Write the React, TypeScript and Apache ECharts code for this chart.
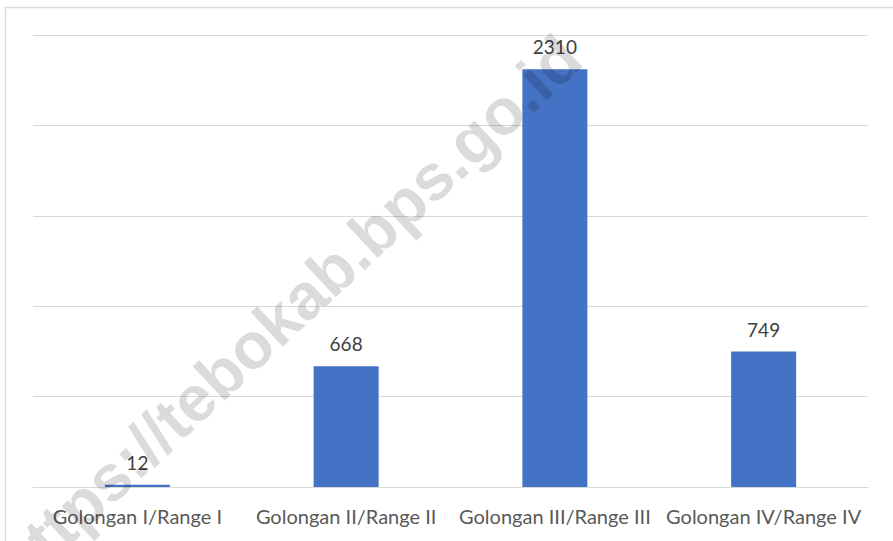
import React, { useEffect, useRef } from "react";
import * as echarts from "echarts";

const categories = [
  "Golongan I/Range I",
  "Golongan II/Range II",
  "Golongan III/Range III",
  "Golongan IV/Range IV",
];
const values = [12, 668, 2310, 749];
const yMin = 0;
const yMax = 2500;
const yInterval = 500;
const watermarkText = "https://tebokab.bps.go.id";

export default function App() {
  const ref = useRef<HTMLDivElement>(null);
  useEffect(() => {
    if (!ref.current) return;
    const chart = echarts.init(ref.current, undefined, { renderer: "svg" });
    chart.setOption({
      animation: false,
      backgroundColor: "#ffffff",
      grid: { left: 33, right: 25, top: 35, bottom: 54, containLabel: false },
      xAxis: {
        type: "category",
        data: categories,
        axisTick: { show: false },
        axisLine: { lineStyle: { color: "#d9d9d9", width: 1 } },
        axisLabel: {
          color: "#595959",
          fontFamily: "Lato",
          fontSize: 20,
          margin: 19,
          interval: 0,
        },
      },
      yAxis: {
        type: "value",
        min: yMin,
        max: yMax,
        interval: yInterval,
        axisLabel: { show: false },
        axisLine: { show: false },
        axisTick: { show: false },
        splitLine: { lineStyle: { color: "#d9d9d9", width: 1 } },
      },
      series: [
        {
          type: "bar",
          data: values,
          barWidth: 65,
          itemStyle: { color: "#4472C4" },
          label: {
            show: true,
            position: "top",
            distance: 13,
            color: "#404040",
            fontFamily: "Lato",
            fontSize: 19,
          },
        },
      ],
      graphic: [
        {
          type: "rect",
          shape: { x: 5.5, y: 7.5, width: 1000, height: 1000 },
          style: { fill: "none", stroke: "#d9d9d9", lineWidth: 1.5 },
          silent: true,
          z: 0,
        },
        {
          type: "text",
          x: 288,
          y: 311,
          rotation: (43 * Math.PI) / 180,
          silent: true,
          z: 100,
          style: {
            text: watermarkText,
            fontFamily: "Liberation Sans",
            fontWeight: "bold",
            fontSize: 65,
            fill: "rgba(0,0,0,0.14)",
            align: "center",
            verticalAlign: "middle",
          },
        },
      ],
    });
    return () => chart.dispose();
  }, []);
  return (
    <div
      ref={ref}
      style={{ position: "fixed", left: 0, top: 0, width: 893, height: 541 }}
    />
  );
}
